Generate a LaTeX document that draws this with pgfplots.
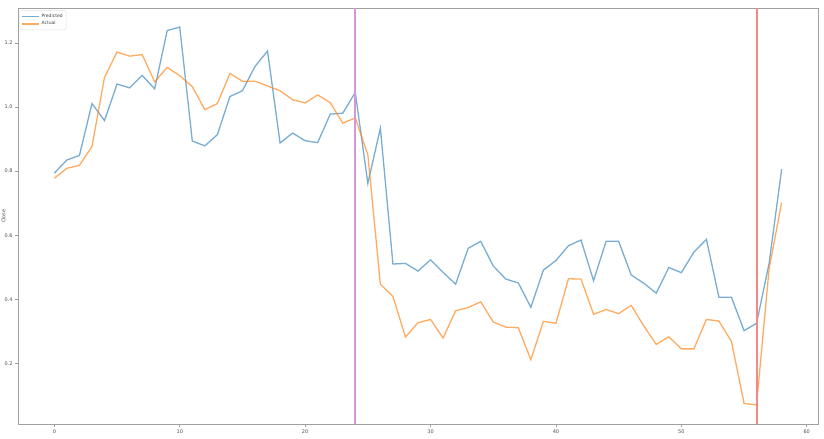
\documentclass[border=0pt]{standalone}
\usepackage{fontspec}
\setmainfont{DejaVu Sans}
\usepackage{pgfplots}
\pgfplotsset{compat=1.18}
\definecolor{tabblue}{RGB}{31,119,180}
\definecolor{taborange}{RGB}{255,127,14}
\definecolor{vpurple}{RGB}{214,150,216}
\definecolor{vred}{RGB}{245,135,135}
\definecolor{spine}{RGB}{160,160,160}
\begin{document}
\begin{tikzpicture}
\begin{axis}[
  scale only axis,
  width=800bp, height=415.7bp,
  xmin=-2.9, xmax=60.9,
  ymin=0.0105, ymax=1.3085,
  xtick={0,10,20,30,40,50,60},
  ytick={0.2,0.4,0.6,0.8,1.0,1.2},
  yticklabels={0.2,0.4,0.6,0.8,1.0,1.2},
  /pgf/number format/assume math mode=true,
  tick label style={font=\fontsize{5}{6}\selectfont, text=black!70},
  axis line style={spine, line width=0.8bp},
  tick style={spine, line width=0.6bp},
  tick align=outside,
  major tick length=3bp,
  xtick pos=bottom, ytick pos=left,
  ylabel={Close},
  ylabel style={font=\fontsize{5}{6}\selectfont, text=black!70, at={(axis description cs:0,0.5)}, anchor=south, yshift=9bp},
  xticklabel style={yshift=1bp},
  yticklabel style={xshift=1bp},
  legend style={at={(axis description cs:0.002,0.995)}, anchor=north west, font=\fontsize{4.5}{5.5}\selectfont, draw=black!12, rounded corners=1.5bp, inner sep=1.5bp, row sep=-1.5bp, text=black!75},
  legend cell align=left,
  clip=true,
]
\addplot[tabblue, opacity=0.6, line width=1.3bp] coordinates {
(0,0.794)(1,0.835)(2,0.849)(3,1.011)(4,0.958)(5,1.072)(6,1.060)(7,1.099)(8,1.057)(9,1.239)
(10,1.250)(11,0.894)(12,0.879)(13,0.914)(14,1.033)(15,1.051)(16,1.127)(17,1.175)(18,0.888)(19,0.919)
(20,0.895)(21,0.889)(22,0.978)(23,0.981)(24,1.046)(25,0.762)(26,0.934)(27,0.510)(28,0.512)(29,0.488)
(30,0.523)(31,0.484)(32,0.447)(33,0.559)(34,0.581)(35,0.504)(36,0.463)(37,0.451)(38,0.375)(39,0.491)
(40,0.521)(41,0.567)(42,0.585)(43,0.458)(44,0.581)(45,0.581)(46,0.476)(47,0.450)(48,0.419)(49,0.499)
(50,0.483)(51,0.547)(52,0.587)(53,0.406)(54,0.406)(55,0.302)(56,0.325)(57,0.512)(58,0.806)
};
\addlegendentry{Predicted}
\addplot[taborange, opacity=0.65, line width=1.3bp] coordinates {
(0,0.778)(1,0.809)(2,0.818)(3,0.877)(4,1.093)(5,1.172)(6,1.159)(7,1.164)(8,1.079)(9,1.124)
(10,1.098)(11,1.064)(12,0.992)(13,1.011)(14,1.105)(15,1.081)(16,1.081)(17,1.066)(18,1.051)(19,1.023)
(20,1.013)(21,1.038)(22,1.014)(23,0.950)(24,0.966)(25,0.851)(26,0.447)(27,0.409)(28,0.282)(29,0.327)
(30,0.337)(31,0.279)(32,0.364)(33,0.374)(34,0.392)(35,0.329)(36,0.313)(37,0.311)(38,0.211)(39,0.331)
(40,0.325)(41,0.464)(42,0.463)(43,0.353)(44,0.368)(45,0.355)(46,0.381)(47,0.317)(48,0.259)(49,0.283)
(50,0.245)(51,0.245)(52,0.337)(53,0.332)(54,0.268)(55,0.075)(56,0.070)(57,0.495)(58,0.702)
};
\addlegendentry{Actual}
\addplot[vpurple, line width=2bp, forget plot] coordinates {(24,0.0105)(24,1.3085)};
\addplot[vred, line width=2bp, forget plot] coordinates {(56,0.0105)(56,1.3085)};
\end{axis}
\pgfresetboundingbox
\path ([xshift=-18bp,yshift=-15bp]current axis.south west) rectangle ([xshift=6bp,yshift=8.3bp]current axis.north east);
\end{tikzpicture}
\end{document}
